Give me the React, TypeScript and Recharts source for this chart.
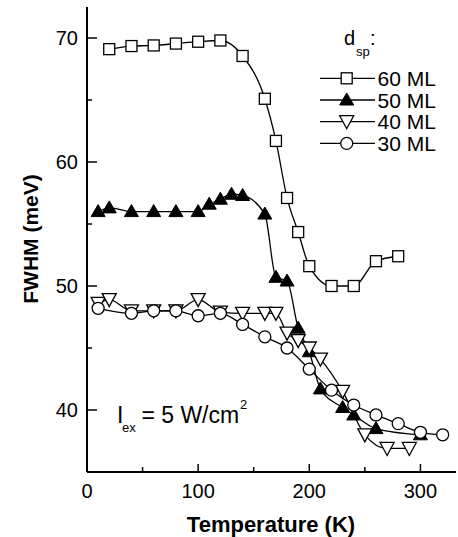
import { LineChart, Line, XAxis, YAxis } from "recharts";

// temperature (K) and FWHM (meV) for each spacer thickness
const t60 = [20, 40, 60, 80, 100, 120, 140, 160, 170, 180, 190, 200, 220, 240, 260, 280];
const v60 = [69.1, 69.35, 69.4, 69.55, 69.7, 69.8, 68.55, 65.1, 61.7, 57.1, 54.35, 51.6, 50.0, 50.0, 52.0, 52.4];

const t50 = [10, 20, 40, 60, 80, 100, 110, 120, 130, 140, 160, 170, 180, 190, 200, 210, 230, 240, 260, 300];
const v50 = [56.0, 56.3, 56.0, 56.0, 56.0, 56.0, 56.6, 57.0, 57.4, 57.3, 55.8, 50.7, 50.4, 46.6, 44.7, 41.7, 40.2, 39.6, 38.5, 38.0];

const t40 = [10, 20, 40, 60, 80, 100, 120, 140, 160, 170, 180, 190, 200, 210, 230, 250, 270, 290];
const v40 = [48.6, 48.9, 48.0, 48.0, 48.0, 48.9, 47.9, 47.8, 47.8, 47.8, 46.2, 45.6, 45.0, 44.1, 41.5, 38.0, 36.9, 36.9];

const t30 = [10, 40, 60, 80, 100, 120, 140, 160, 180, 200, 220, 240, 260, 280, 300, 320];
const v30 = [48.2, 47.8, 48.0, 48.0, 47.6, 47.8, 46.9, 45.9, 45.0, 43.3, 41.6, 40.4, 39.6, 38.9, 38.2, 38.0];

const xTicks = [0, 50, 100, 150, 200, 250, 300];
const yTicks = [40, 45, 50, 55, 60, 65, 70];
const legendLabels = ["60 ML", "50 ML", "40 ML", "30 ML"];

const toRows = (ts: number[], vs: number[]) => ts.map((t, i) => ({ t, v: vs[i] }));

const FONT = "'Liberation Sans', Arial, Helvetica, sans-serif";

const Square = (p: any) => (
  <rect key={p.index} x={p.cx - 5.5} y={p.cy - 5.5} width={11} height={11} fill="#fff" stroke="#000" strokeWidth={1.3} />
);
const UpTri = (p: any) => (
  <polygon key={p.index} points={`${p.cx},${p.cy - 7} ${p.cx + 7},${p.cy + 5} ${p.cx - 7},${p.cy + 5}`} fill="#000" stroke="#000" strokeWidth={1} />
);
const DownTri = (p: any) => (
  <polygon key={p.index} points={`${p.cx - 7},${p.cy - 6} ${p.cx + 7},${p.cy - 6} ${p.cx},${p.cy + 7}`} fill="#fff" stroke="#000" strokeWidth={1.3} />
);
const Circ = (p: any) => (
  <circle key={p.index} cx={p.cx} cy={p.cy} r={6} fill="#fff" stroke="#000" strokeWidth={1.3} />
);

const BottomTick = ({ x, y, payload }: any) => {
  const major = payload.value % 100 === 0;
  return (
    <g>
      <line x1={x} x2={x} y1={y} y2={y - (major ? 8 : 5)} stroke="#000" strokeWidth={1.5} />
      {major && (
        <text x={x} y={y + 26} textAnchor="middle" fontSize={20} fontFamily={FONT} fill="#000">
          {payload.value}
        </text>
      )}
    </g>
  );
};

const TopTick = ({ x, y, payload }: any) => {
  const major = payload.value % 100 === 0;
  return <line x1={x} x2={x} y1={y} y2={y + (major ? 8 : 5)} stroke="#000" strokeWidth={1.5} />;
};

const LeftTick = ({ x, y, payload }: any) => {
  const major = payload.value % 10 === 0;
  return (
    <g>
      <line x1={x} x2={x + (major ? 10 : 5)} y1={y} y2={y} stroke="#000" strokeWidth={1.5} />
      {major && (
        <text x={x - 9} y={y + 7} textAnchor="end" fontSize={20} fontFamily={FONT} fill="#000">
          {payload.value}
        </text>
      )}
    </g>
  );
};

const RightTick = ({ x, y, payload }: any) => {
  const major = payload.value % 10 === 0;
  return <line x1={x} x2={x - (major ? 10 : 5)} y1={y} y2={y} stroke="#000" strokeWidth={1.5} />;
};

const markers = [Square, UpTri, DownTri, Circ];

export default function App() {
  const axisLine = { stroke: "#000", strokeWidth: 2 };
  return (
    <div style={{ position: "absolute", left: 0, top: 0, width: 458, height: 537, background: "#fff" }}>
      <LineChart width={458} height={537} margin={{ top: 7, right: 2, bottom: 0, left: 0 }}>
        <XAxis
          xAxisId="b"
          type="number"
          dataKey="t"
          domain={[0, 332]}
          ticks={xTicks}
          height={65}
          tickSize={0}
          tickMargin={0}
          tickLine={false}
          axisLine={axisLine}
          tick={<BottomTick />}
          allowDataOverflow
        />
        <XAxis
          xAxisId="top"
          orientation="top"
          type="number"
          dataKey="t"
          domain={[0, 332]}
          ticks={xTicks}
          height={0}
          tickSize={0}
          tickMargin={0}
          tickLine={false}
          axisLine={axisLine}
          tick={<TopTick />}
        />
        <YAxis
          yAxisId="l"
          type="number"
          domain={[35, 72.5]}
          ticks={yTicks}
          width={87}
          tickSize={0}
          tickMargin={0}
          tickLine={false}
          axisLine={axisLine}
          tick={<LeftTick />}
          allowDataOverflow
        />
        <YAxis
          yAxisId="r"
          orientation="right"
          type="number"
          domain={[35, 72.5]}
          ticks={yTicks}
          width={0}
          tickSize={0}
          tickMargin={0}
          tickLine={false}
          axisLine={axisLine}
          tick={<RightTick />}
        />
        <Line xAxisId="b" yAxisId="l" data={toRows(t60, v60)} dataKey="v" type="monotone" stroke="#000" strokeWidth={1.3} dot={Square} isAnimationActive={false} />
        <Line xAxisId="b" yAxisId="l" data={toRows(t50, v50)} dataKey="v" type="monotone" stroke="#000" strokeWidth={1.3} dot={UpTri} isAnimationActive={false} />
        <Line xAxisId="b" yAxisId="l" data={toRows(t40, v40)} dataKey="v" type="monotone" stroke="#000" strokeWidth={1.3} dot={DownTri} isAnimationActive={false} />
        <Line xAxisId="b" yAxisId="l" data={toRows(t30, v30)} dataKey="v" type="monotone" stroke="#000" strokeWidth={1.3} dot={Circ} isAnimationActive={false} />
      </LineChart>
      <svg width={458} height={537} style={{ position: "absolute", left: 0, top: 0, pointerEvents: "none" }} fontFamily={FONT}>
        <text x={30} y={239} transform="rotate(-90 30 239)" textAnchor="middle" dominantBaseline="central" fontSize={21} fontWeight="bold">
          FWHM (meV)
        </text>
        <text x={271} y={532} textAnchor="middle" fontSize={22} fontWeight="bold">
          Temperature (K)
        </text>
        <text x={344} y={45} fontSize={20}>
          d
        </text>
        <text x={356} y={56} fontSize={13}>
          sp
        </text>
        <text x={370} y={45} fontSize={20}>
          :
        </text>
        {legendLabels.map((lab, i) => {
          const cy = 78.3 + i * 21.7;
          const M = markers[i];
          return (
            <g key={lab}>
              <line x1={320} x2={375} y1={cy} y2={cy} stroke="#000" strokeWidth={1.3} />
              {M({ cx: 346.7, cy, index: i })}
              <text x={377.5} y={cy + 7.5} fontSize={21}>
                {lab}
              </text>
            </g>
          );
        })}
        <text x={117} y={423} fontSize={23}>
          I
        </text>
        <text x={122} y={432} fontSize={13}>
          ex
        </text>
        <text x={135} y={423} fontSize={23} style={{ whiteSpace: "pre" }}>
          {" = 5 W/cm"}
        </text>
        <text x={240} y={409} fontSize={13}>
          2
        </text>
      </svg>
    </div>
  );
}
